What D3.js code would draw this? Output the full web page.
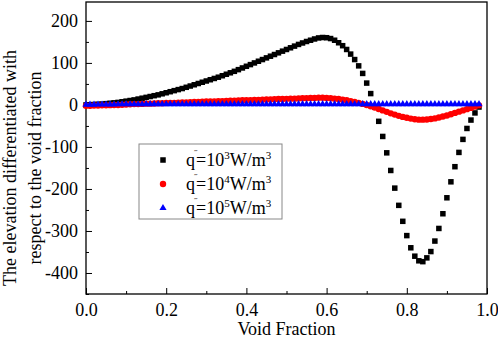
<!DOCTYPE html>
<html>
<head>
<meta charset="utf-8">
<script src="https://cdn.jsdelivr.net/npm/d3@7"></script>
<style>
  body { margin: 0; background: #fff; }
  svg { display: block; font-family: "Liberation Serif", "Times New Roman", serif; }
  .axis path { display: none; }
  .axis line { stroke: #000; stroke-width: 1; }
  .axis text { font-size: 18px; fill: #000; font-family: "Liberation Serif", serif; }
</style>
</head>
<body>
<div id="chart"></div>
<script>
    // void fraction, 0.00 .. 0.98 in steps of 0.01
    var voidFraction = [
        0.00,0.01,0.02,0.03,0.04,0.05,0.06,0.07,0.08,0.09,
        0.10,0.11,0.12,0.13,0.14,0.15,0.16,0.17,0.18,0.19,
        0.20,0.21,0.22,0.23,0.24,0.25,0.26,0.27,0.28,0.29,
        0.30,0.31,0.32,0.33,0.34,0.35,0.36,0.37,0.38,0.39,
        0.40,0.41,0.42,0.43,0.44,0.45,0.46,0.47,0.48,0.49,
        0.50,0.51,0.52,0.53,0.54,0.55,0.56,0.57,0.58,0.59,
        0.60,0.61,0.62,0.63,0.64,0.65,0.66,0.67,0.68,0.69,
        0.70,0.71,0.72,0.73,0.74,0.75,0.76,0.77,0.78,0.79,
        0.80,0.81,0.82,0.83,0.84,0.85,0.86,0.87,0.88,0.89,
        0.90,0.91,0.92,0.93,0.94,0.95,0.96,0.97,0.98
    ];

    // q''' = 10^3 W/m^3
    var q1e3 = [
        0,0.5,1,1.5,2,3,4,5,6,7.5,
        9,10.5,12,14,16,18,20,22,24,26.5,
        29,31.5,34,36.5,39,42,45,48,51,54,
        57,60,63,66,69.5,73,76.5,80,84,88,
        92,96,100,104,108,112,116,120,124,128,
        132,136,140,144,147.5,151,154,157,159.5,160.5,
        160,158,154,148,141,132,121,108,93,75,
        52,27,-5,-39,-75,-114,-156,-198,-239,-277,
        -311,-340,-360,-371,-373,-364,-349,-324,-294,-259,
        -221,-183,-147,-113,-82,-56,-36,-19,-5
    ];

    // q''' = 10^4 W/m^3
    var q1e4 = [
        -2,-2,-1.5,-1.5,-1,-1,-0.5,0,0,0.5,
        1,1.5,2,2,2.5,3,3,3.5,4,4,
        4.5,5,5,5.5,6,6,6.5,7,7,7.5,
        8,8,8.5,9,9,9.5,10,10,10.5,11,
        11,11.5,12,12,12.5,13,13,13.5,14,14,
        14.5,15,15,15.5,16,16,16.5,16.5,17,17,
        16.5,16,15,14,12.5,11,9,7,5,2.5,
        0,-3,-6,-9.5,-13,-16.5,-20,-23,-26,-28.5,
        -30.5,-32.5,-34,-35,-35,-34.5,-33.5,-32,-30,-27.5,
        -25,-22,-19,-16,-13,-10,-7,-4,-1
    ];

    // q''' = 10^5 W/m^3
    var q1e5 = [
        0.5,0.5,0.5,1,1,1,1,1,1.5,1.5,
        1.5,1.5,1.5,1.5,1.5,2,2,2,2,2,
        2,2,2,2,2,2,2,2,2,2,
        2,2,2,2,2,2,2,2,2,2,
        2,2,2,2,2,2,2,2,2,2,
        2,2,2,2,2,2,2,2,2,2,
        2,2,2,2,2,2,2,2,2,2,
        2,2,2,2,2,2,2,2,2,2,
        2,2,2,2,2,2,2,2,2,2,
        2,2,2,2,2,2,2,2,2
    ];

    var xTicks = [0, 0.2, 0.4, 0.6, 0.8, 1.0];
    var xMinorTicks = [0.1, 0.3, 0.5, 0.7, 0.9];
    var yTicks = [-400, -300, -200, -100, 0, 100, 200];
    var yMinorTicks = [-450, -350, -250, -150, -50, 50, 150];
    var legendExponents = ["3", "4", "5"];

(function() {
    'use strict';

    var width = 498, height = 339;
    var mLeft = 86, mRight = 487, mTop = 2, mBottom = 294;

    var svg = d3.select("#chart").append("svg")
        .attr("width", width).attr("height", height);

    var x = d3.scaleLinear().domain([0, 1]).range([mLeft, mRight]);
    var y = d3.scaleLinear().domain([-450, 245]).range([mBottom, mTop]);

    // axes (ticks point inward)
    svg.append("g").attr("class", "axis")
        .attr("transform", "translate(0," + mBottom + ")")
        .call(d3.axisBottom(x).tickValues(xTicks).tickSize(-6).tickPadding(9)
            .tickFormat(d3.format(".1f")));
    svg.append("g").attr("class", "axis")
        .attr("transform", "translate(0," + mBottom + ")")
        .call(d3.axisBottom(x).tickValues(xMinorTicks).tickSize(-3).tickFormat(""));

    svg.append("g").attr("class", "axis")
        .attr("transform", "translate(" + mLeft + ",0)")
        .call(d3.axisLeft(y).tickValues(yTicks).tickSize(-6).tickPadding(8)
            .tickFormat(function(d) { return String(d); }));
    svg.append("g").attr("class", "axis")
        .attr("transform", "translate(" + mLeft + ",0)")
        .call(d3.axisLeft(y).tickValues(yMinorTicks).tickSize(-3).tickFormat(""));

    // frame
    svg.append("rect")
        .attr("x", mLeft).attr("y", mTop)
        .attr("width", mRight - mLeft).attr("height", mBottom - mTop)
        .attr("fill", "none").attr("stroke", "#000").attr("stroke-width", 1.3);

    // series: squares, then circles, then triangles on top
    var plot = svg.append("g");
    var sq = 5.5;

    plot.selectAll("rect.s1").data(q1e3).enter().append("rect")
        .attr("class", "s1")
        .attr("x", function(d, i) { return x(voidFraction[i]) - sq / 2; })
        .attr("y", function(d) { return y(d) - sq / 2; })
        .attr("width", sq).attr("height", sq)
        .attr("fill", "#000");

    plot.selectAll("circle.s2").data(q1e4).enter().append("circle")
        .attr("class", "s2")
        .attr("cx", function(d, i) { return x(voidFraction[i]); })
        .attr("cy", function(d) { return y(d); })
        .attr("r", 3.2)
        .attr("fill", "#ff0000");

    var tri = d3.symbol().type(d3.symbolTriangle).size(22);
    plot.selectAll("path.s3").data(q1e5).enter().append("path")
        .attr("class", "s3")
        .attr("d", tri)
        .attr("transform", function(d, i) { return "translate(" + x(voidFraction[i]) + "," + y(d) + ")"; })
        .attr("fill", "#0000ff");

    // axis titles
    svg.append("text")
        .attr("x", (mLeft + mRight) / 2).attr("y", 335)
        .attr("text-anchor", "middle").attr("font-size", 18)
        .text("Void Fraction");

    var yTitle = svg.append("text")
        .attr("transform", "translate(0,168) rotate(-90)")
        .attr("text-anchor", "middle").attr("font-size", 18);
    yTitle.append("tspan").attr("x", 0).attr("y", 16).text("The elevation differentiated with");
    yTitle.append("tspan").attr("x", 0).attr("y", 41).text("respect to the void fraction");

    // legend
    var lg = svg.append("g");
    lg.append("rect")
        .attr("x", 139).attr("y", 144).attr("width", 143).attr("height", 75)
        .attr("fill", "#fff").attr("stroke", "#888").attr("stroke-width", 1);

    var rowsY = [160, 184, 208];
    lg.append("rect").attr("x", 163 - sq / 2).attr("y", rowsY[0] - sq / 2)
        .attr("width", sq).attr("height", sq).attr("fill", "#000");
    lg.append("circle").attr("cx", 163).attr("cy", rowsY[1]).attr("r", 3.2).attr("fill", "#ff0000");
    lg.append("path").attr("d", tri).attr("transform", "translate(163," + rowsY[2] + ")").attr("fill", "#0000ff");

    legendExponents.forEach(function(e, i) {
        var t = lg.append("text").attr("x", 186).attr("y", rowsY[i] + 6).attr("font-size", 18);
        t.append("tspan").text("q");
        t.append("tspan").attr("dx", 1).text("=10");
        t.append("tspan").attr("font-size", 11).attr("dy", -7).text(e);
        t.append("tspan").attr("dy", 7).text("W/m");
        t.append("tspan").attr("font-size", 11).attr("dy", -7).text("3");
        // triple prime sitting over the right shoulder of q
        lg.append("text").attr("x", 194).attr("y", rowsY[i] - 5)
            .attr("font-size", 7).attr("font-family", "DejaVu Serif")
            .attr("letter-spacing", -0.6)
            .text("\u2032\u2032\u2032");
    });
})();
</script>
</body>
</html>
